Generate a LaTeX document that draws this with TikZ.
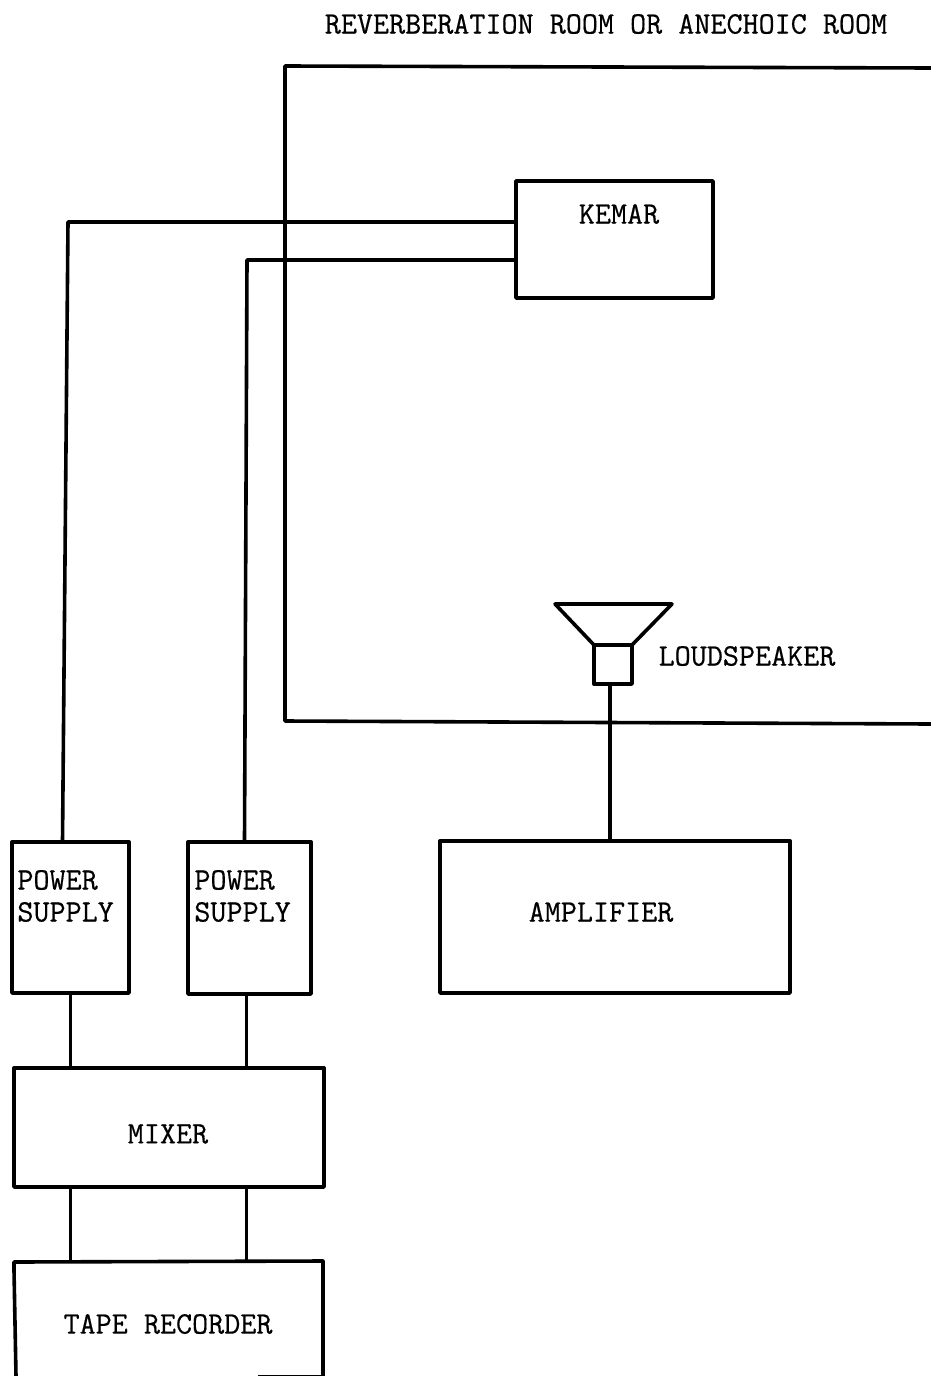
\documentclass[tikz,border=0pt]{standalone}
\usepackage{fontspec}
\setmonofont[FakeBold=0.5]{Latin Modern Mono}
\tikzset{
    block/.style={draw, line width=1.7pt, rectangle, inner sep=0pt, outer sep=0pt},
    wire/.style={line width=1.8pt},
    lbl/.style={inner sep=0pt, align=left, font=\fontsize{15.6}{16}\selectfont\ttfamily}
}
\begin{document}
\begin{tikzpicture}[x=0.5pt, y=-0.5pt, line join=round]
        \useasboundingbox (0,0) rectangle (931,1376);

        % Room walls
        \draw[wire] (931,68) -- (285,66) -- (285,721) -- (931,724);
        \node[lbl] (roomtext) at (606,24) {REVERBERATION ROOM OR ANECHOIC ROOM};

        % Blocks
        \node[block, minimum width=98.5pt, minimum height=58.5pt] (kemar) at (614.5,239.5) {};
        \node[block, minimum width=58.5pt, minimum height=75.5pt] (psa) at (70.5,917.5) {};
        \node[block, minimum width=61.5pt, minimum height=76pt] (psb) at (249.5,918) {};
        \node[block, minimum width=175pt, minimum height=76pt] (amp) at (615,917) {};
        \node[block, minimum width=155pt, minimum height=59.5pt] (mixer) at (169,1127.5) {};
        \node[block, minimum width=19pt, minimum height=19.5pt] (spk) at (613,664.5) {};

        % Labels
        \node[lbl] (kemartext) at (619,214) {KEMAR};
        \node[lbl] (spktext) at (747,656) {LOUDSPEAKER};
        \node[lbl, anchor=west] (psatext) at (17,896) {POWER\\SUPPLY};
        \node[lbl, anchor=west] (psbtext) at (194,896) {POWER\\SUPPLY};
        \node[lbl] (amptext) at (601,912) {AMPLIFIER};
        \node[lbl] (mixertext) at (168,1134) {MIXER};
        \node[lbl] (tapetext) at (168,1324) {TAPE RECORDER};

        % Tape recorder runs off the sheet
        \coordinate (tapenw) at (14,1262);
        \coordinate (tapene) at (323,1261);
        \draw[wire] (16,1376) -- (14,1270) -- (tapenw) -- (tapene) -- (323,1376);
        \draw[line width=0.7pt] (258,1375.5) -- (323,1375.5);

        % Horn
        \draw[wire] (spk.north west) -- (555,604) -- (672,604) -- (spk.north east);

        % Leads
        \coordinate (benda) at (68,222);
        \coordinate (bendb) at (247,260);
        \draw[wire] (kemar.west |- benda) -- (benda) -- ([xshift=-4pt]psa.north);
        \draw[wire] (kemar.west |- bendb) -- (bendb) -- ([xshift=-2.5pt]psb.north);
        \draw[wire] ([xshift=-1.5pt]spk.south) -- ([xshift=-1.5pt]spk.south |- amp.north);
        \draw[wire] (psa.south) -- (psa.south |- mixer.north);
        \draw[wire] ([xshift=-1.5pt]psb.south) -- ([xshift=-1.5pt]psb.south |- mixer.north);
        \draw[wire] (mixer.south -| psa.south) -- (psa.south |- tapenw);
        \draw[wire] ([xshift=-1.5pt]mixer.south -| psb.south) -- ([xshift=-1.5pt]psb.south |- tapene);
\end{tikzpicture}
\end{document}
